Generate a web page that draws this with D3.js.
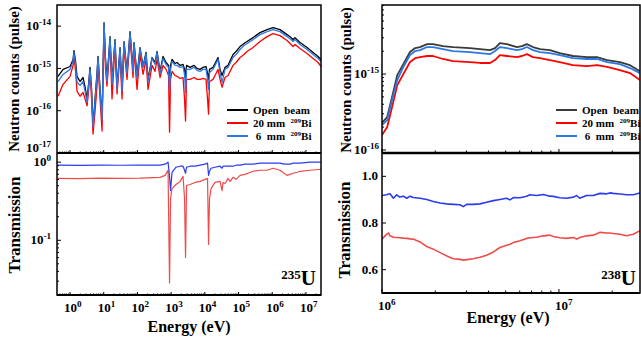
<!DOCTYPE html>
<html><head><meta charset="utf-8">
<script src="https://cdn.jsdelivr.net/npm/d3@7"></script>
<style>
body{margin:0;background:#fff}
svg{display:block}
text{font-family:"Liberation Serif","Times New Roman",serif;font-weight:bold;fill:#000}
</style>
</head><body>
<svg id="c" width="641" height="342"></svg>
<script>
// ---------------- DATA ----------------
// Left panel (235U), neutron counts per pulse
const leftEnergy = [
  0.44, 0.62, 1.0, 1.23, 1.31, 1.46, 1.61, 1.98, 2.43, 2.79,
  3.2, 3.54, 3.92, 4.35, 4.81, 5.52, 6.32, 6.77, 7.77, 8.91,
  9.53, 10.2, 11.3, 12.5, 15.4, 17.6, 21.6, 24.8, 30.5, 34.9,
  40.0, 49.1, 60.3, 74.0, 79.3, 97.3, 119, 147, 180, 206,
  271, 333, 382, 469, 575, 706, 837, 897, 960, 1064,
  1306, 1497, 1837, 2255, 2500, 2675, 2865, 3637, 4786, 5871,
  7208, 8846, 10860, 12030, 12880, 13780, 17500, 21480, 24640, 28250,
  32380, 39720, 48760, 68700, 84300, 110900, 145600, 178600, 269400, 434300,
  701000, 1.056e6, 1.70e6, 2.75e6, 3.61e6, 4.14e6, 4.75e6, 6.68e6, 1.08e7, 1.63e7,
  2.29e7, 2.81e7];
const leftOpenBeam = [
  0.65e-15, 0.95e-15, 1.11e-15, 1.63e-15, 2.65e-15, 1.46e-15, 0.65e-15, 0.49e-15, 0.61e-15, 0.36e-15,
  0.19e-15, 0.42e-15, 1.06e-15, 0.32e-15, 0.043e-15, 0.19e-15, 0.80e-15, 1.92e-15, 0.32e-15, 0.063e-15,
  0.95e-15, 12.1e-15, 1.63e-15, 0.55e-15, 5.66e-15, 0.47e-15, 4.81e-15, 0.36e-15, 3.12e-15, 0.32e-15,
  4.32e-15, 0.80e-15, 7.42e-15, 0.95e-15, 4.09e-15, 0.65e-15, 3.12e-15, 1.11e-15, 2.38e-15, 0.55e-15,
  1.81e-15, 1.38e-15, 2.51e-15, 0.85e-15, 1.92e-15, 1.38e-15, 1.18e-15, 0.38e-15, 1.18e-15, 1.63e-15,
  1.31e-15, 1.38e-15, 1.18e-15, 1.24e-15, 0.95e-15, 0.61e-15, 1.18e-15, 1.06e-15, 1.18e-15, 1.00e-15,
  0.95e-15, 1.06e-15, 1.11e-15, 0.76e-15, 0.55e-15, 0.95e-15, 1.06e-15, 1.46e-15, 1.81e-15, 0.95e-15,
  0.68e-15, 1.06e-15, 1.18e-15, 2.13e-15, 2.51e-15, 3.29e-15, 3.87e-15, 4.32e-15, 5.36e-15, 7.03e-15,
  8.27e-15, 9.22e-15, 8.27e-15, 6.31e-15, 5.36e-15, 4.81e-15, 5.36e-15, 4.09e-15, 3.12e-15, 2.38e-15,
  1.92e-15, 1.63e-15];
const leftBi6 = [
  0.49e-15, 0.72e-15, 0.95e-15, 1.46e-15, 2.38e-15, 1.18e-15, 0.47e-15, 0.40e-15, 0.49e-15, 0.29e-15,
  0.16e-15, 0.38e-15, 0.95e-15, 0.29e-15, 0.041e-15, 0.17e-15, 0.72e-15, 1.81e-15, 0.29e-15, 0.060e-15,
  0.85e-15, 11.4e-15, 1.46e-15, 0.49e-15, 5.36e-15, 0.42e-15, 4.56e-15, 0.32e-15, 2.96e-15, 0.29e-15,
  4.09e-15, 0.76e-15, 7.03e-15, 0.85e-15, 3.87e-15, 0.58e-15, 2.96e-15, 1.06e-15, 2.25e-15, 0.49e-15,
  1.72e-15, 1.24e-15, 2.38e-15, 0.76e-15, 1.72e-15, 1.24e-15, 1.06e-15, 0.29e-15, 0.95e-15, 1.46e-15,
  1.18e-15, 1.18e-15, 1.06e-15, 1.11e-15, 0.72e-15, 0.27e-15, 0.95e-15, 0.95e-15, 1.06e-15, 0.90e-15,
  0.85e-15, 0.95e-15, 0.95e-15, 0.55e-15, 0.32e-15, 0.80e-15, 0.95e-15, 1.31e-15, 1.63e-15, 0.80e-15,
  0.47e-15, 0.95e-15, 1.06e-15, 1.81e-15, 2.13e-15, 2.80e-15, 3.48e-15, 3.87e-15, 4.81e-15, 6.31e-15,
  7.42e-15, 8.27e-15, 7.42e-15, 5.66e-15, 4.81e-15, 4.32e-15, 4.81e-15, 3.67e-15, 2.80e-15, 2.13e-15,
  1.72e-15, 1.46e-15];
const leftBi20 = [
  0.22e-15, 0.42e-15, 0.65e-15, 1.18e-15, 1.92e-15, 0.85e-15, 0.29e-15, 0.22e-15, 0.27e-15, 0.19e-15,
  0.13e-15, 0.29e-15, 0.80e-15, 0.19e-15, 0.028e-15, 0.097e-15, 0.38e-15, 1.24e-15, 0.19e-15, 0.033e-15,
  0.55e-15, 9.2e-15, 0.95e-15, 0.38e-15, 4.09e-15, 0.19e-15, 3.48e-15, 0.25e-15, 2.25e-15, 0.19e-15,
  3.12e-15, 0.55e-15, 5.36e-15, 0.61e-15, 2.80e-15, 0.32e-15, 2.13e-15, 0.72e-15, 1.63e-15, 0.32e-15,
  1.18e-15, 0.85e-15, 1.63e-15, 0.61e-15, 1.18e-15, 0.95e-15, 0.68e-15, 0.031e-15, 0.55e-15, 0.85e-15,
  0.68e-15, 0.65e-15, 0.58e-15, 0.61e-15, 0.19e-15, 0.057e-15, 0.55e-15, 0.55e-15, 0.61e-15, 0.55e-15,
  0.55e-15, 0.58e-15, 0.55e-15, 0.19e-15, 0.083e-15, 0.49e-15, 0.55e-15, 0.76e-15, 0.95e-15, 0.55e-15,
  0.36e-15, 0.61e-15, 0.68e-15, 1.18e-15, 1.38e-15, 1.81e-15, 2.13e-15, 2.51e-15, 3.12e-15, 4.32e-15,
  5.66e-15, 6.66e-15, 5.97e-15, 4.56e-15, 3.67e-15, 3.29e-15, 3.67e-15, 2.96e-15, 2.25e-15, 1.72e-15,
  1.38e-15, 1.11e-15];

// Left panel transmission
const leftTransEnergy = [
  0.44, 1.98, 7.77, 30.5, 119, 469, 659, 809, 897, 960,
  1064, 1397, 1837, 2255, 2500, 2675, 2865, 3637, 5117, 7208,
  10140, 12030, 12880, 13780, 15280, 20080, 28250, 32380, 34680, 39720,
  48760, 55970, 68700, 84300, 110900, 156000, 269400, 434300, 701000, 1.056e6,
  1.70e6, 2.24e6, 2.75e6, 3.37e6, 4.14e6, 5.45e6, 6.68e6, 1.32e7, 2.81e7];
const leftTrans6 = [
  0.914, 0.91, 0.918, 0.912, 0.915, 0.914, 0.942, 1.0, 0.658, 0.433,
  0.742, 0.861, 0.887, 0.887, 0.787, 0.720, 0.861, 0.887, 0.887, 0.914,
  0.942, 0.970, 0.678, 0.764, 0.836, 0.861, 0.887, 0.836, 0.887, 0.887,
  0.887, 0.887, 0.887, 0.914, 0.914, 0.942, 0.942, 0.970, 0.970, 0.970,
  0.970, 0.942, 0.942, 0.942, 0.970, 0.970, 0.970, 1.0, 1.0];
const leftTrans20 = [
  0.620, 0.615, 0.625, 0.620, 0.625, 0.639, 0.678, 0.787, 0.0285, 0.341,
  0.459, 0.518, 0.567, 0.658, 0.341, 0.0602, 0.503, 0.518, 0.550, 0.567,
  0.602, 0.620, 0.0887, 0.341, 0.459, 0.550, 0.567, 0.433, 0.550, 0.534,
  0.620, 0.567, 0.639, 0.602, 0.678, 0.698, 0.764, 0.787, 0.787, 0.836,
  0.787, 0.720, 0.678, 0.698, 0.720, 0.742, 0.764, 0.787, 0.811];

// Right panel (238U), neutron counts per pulse
const rightEnergy = [
  1.00e6, 1.07e6, 1.14e6, 1.22e6, 1.31e6, 1.44e6, 1.54e6, 1.64e6, 1.80e6, 1.94e6,
  2.21e6, 2.52e6, 3.14e6, 3.58e6, 4.08e6, 4.35e6, 4.64e6, 5.08e6, 5.79e6, 6.18e6,
  6.59e6, 7.13e6, 7.81e6, 8.89e6, 1.01e7, 1.20e7, 1.44e7, 1.64e7, 1.87e7, 2.21e7,
  2.52e7, 2.87e7];
const rightOpenBeam = [
  0.227e-15, 0.272e-15, 0.498e-15, 0.970e-15, 1.31e-15, 1.95e-15, 2.20e-15, 2.27e-15, 2.48e-15, 2.48e-15,
  2.34e-15, 2.27e-15, 2.20e-15, 2.13e-15, 2.07e-15, 2.20e-15, 2.56e-15, 2.48e-15, 2.27e-15, 2.34e-15,
  2.48e-15, 2.27e-15, 2.13e-15, 2.07e-15, 1.89e-15, 1.73e-15, 1.67e-15, 1.67e-15, 1.53e-15, 1.44e-15,
  1.31e-15, 1.09e-15];
const rightBi6 = [
  0.213e-15, 0.248e-15, 0.455e-15, 0.834e-15, 1.20e-15, 1.78e-15, 2.01e-15, 2.07e-15, 2.27e-15, 2.27e-15,
  2.13e-15, 2.01e-15, 1.95e-15, 1.89e-15, 1.83e-15, 2.01e-15, 2.27e-15, 2.20e-15, 2.07e-15, 2.13e-15,
  2.27e-15, 2.07e-15, 1.95e-15, 1.89e-15, 1.78e-15, 1.62e-15, 1.58e-15, 1.58e-15, 1.44e-15, 1.35e-15,
  1.20e-15, 1.03e-15];
const rightBi20 = [
  0.157e-15, 0.201e-15, 0.368e-15, 0.716e-15, 0.970e-15, 1.44e-15, 1.62e-15, 1.67e-15, 1.73e-15, 1.73e-15,
  1.58e-15, 1.48e-15, 1.44e-15, 1.40e-15, 1.40e-15, 1.53e-15, 1.78e-15, 1.73e-15, 1.67e-15, 1.73e-15,
  1.83e-15, 1.67e-15, 1.62e-15, 1.53e-15, 1.44e-15, 1.31e-15, 1.27e-15, 1.31e-15, 1.24e-15, 1.13e-15,
  1.03e-15, 0.834e-15];

// Right panel transmission
const rightTransEnergy = [
  1.00e6, 1.04e6, 1.06e6, 1.09e6, 1.11e6, 1.16e6, 1.21e6, 1.26e6, 1.32e6, 1.38e6,
  1.44e6, 1.50e6, 1.64e6, 1.79e6, 1.95e6, 2.13e6, 2.32e6, 2.53e6, 2.76e6, 2.88e6,
  3.01e6, 3.28e6, 3.58e6, 3.90e6, 4.26e6, 4.64e6, 5.06e6, 5.29e6, 5.52e6, 6.02e6,
  6.56e6, 6.86e6, 7.48e6, 8.15e6, 8.89e6, 9.29e6, 1.01e7, 1.10e7, 1.21e7, 1.26e7,
  1.31e7, 1.43e7, 1.56e7, 1.71e7, 1.86e7, 1.94e7, 2.03e7, 2.21e7, 2.41e7, 2.63e7,
  2.87e7];
const rightTrans6 = [
  0.918, 0.920, 0.921, 0.924, 0.925, 0.906, 0.921, 0.911, 0.915, 0.906,
  0.915, 0.909, 0.906, 0.901, 0.892, 0.886, 0.882, 0.880, 0.878, 0.870,
  0.880, 0.880, 0.882, 0.889, 0.896, 0.901, 0.906, 0.899, 0.909, 0.908,
  0.915, 0.921, 0.918, 0.922, 0.915, 0.914, 0.908, 0.906, 0.911, 0.918,
  0.906, 0.918, 0.918, 0.927, 0.925, 0.929, 0.927, 0.924, 0.921, 0.921,
  0.929];
const rightTrans20 = [
  0.731, 0.745, 0.751, 0.757, 0.745, 0.739, 0.738, 0.737, 0.735, 0.734,
  0.732, 0.731, 0.719, 0.699, 0.688, 0.673, 0.659, 0.647, 0.644, 0.641,
  0.643, 0.647, 0.653, 0.662, 0.676, 0.695, 0.705, 0.709, 0.716, 0.724,
  0.734, 0.737, 0.739, 0.745, 0.748, 0.742, 0.737, 0.734, 0.738, 0.731,
  0.738, 0.745, 0.748, 0.760, 0.757, 0.757, 0.755, 0.752, 0.745, 0.752,
  0.767];

// Tick labels / text
const leftXTickExp = [0, 1, 2, 3, 4, 5, 6, 7];
const leftTopYTickExp = [-17, -16, -15, -14];
const leftBotYTickExp = [-1, 0];
const rightXTickExp = [6, 7];
const rightTopYTickExp = [-16, -15];
const rightBotYTicks = [0.6, 0.8, 1.0];
const legendLabels = [
  {pre: "Open  beam", sup: "", post: ""},
  {pre: "20 mm  ", sup: "209", post: "Bi"},
  {pre: " 6  mm  ", sup: "209", post: "Bi"}
];
const countsTitle = "Neutron counts (pulse)";
const transTitle = "Transmission";
const energyTitle = "Energy (eV)";

// ---------------- DRAWING ----------------
const svg = d3.select("#c");
const C = {black: "#000000", red: "#ff0000", blue: "#2b78e4",
           rBlack: "#3a3a3a", tRed: "#f04a4a", tBlue: "#2a3cf0"};

function logTicks(dom) {
  const out = [];
  const lo = Math.floor(Math.log10(dom[0])), hi = Math.ceil(Math.log10(dom[1]));
  for (let n = lo; n <= hi; n++) for (let k = 1; k < 10; k++) {
    const v = k * Math.pow(10, n);
    if (v >= dom[0] * 0.9999 && v <= dom[1] * 1.0001) out.push({v, major: k === 1});
  }
  return out;
}

let clipN = 0;
function clip(x0, y0, x1, y1) {
  const id = "clip" + (clipN++);
  svg.append("clipPath").attr("id", id).append("rect")
    .attr("x", x0).attr("y", y0).attr("width", x1 - x0).attr("height", y1 - y0);
  return "url(#" + id + ")";
}

function series(cp, x, y, xs, ys, color, w) {
  const line = d3.line().x((d, i) => x(xs[i])).y(d => y(d));
  svg.append("path").attr("clip-path", cp).attr("d", line(ys))
    .attr("fill", "none").attr("stroke", color).attr("stroke-width", w)
    .attr("stroke-linejoin", "round");
}

function xTicksUp(x, yPos, ticks, majLen, minLen) {
  ticks.forEach(t => {
    svg.append("line").attr("x1", x(t.v)).attr("x2", x(t.v))
      .attr("y1", yPos).attr("y2", yPos - (t.major ? majLen : minLen))
      .attr("stroke", "#000").attr("stroke-width", 1);
  });
}
function yTicksRight(y, xPos, ticks, majLen, minLen) {
  ticks.forEach(t => {
    svg.append("line").attr("y1", y(t.v)).attr("y2", y(t.v))
      .attr("x1", xPos).attr("x2", xPos + (t.major ? majLen : minLen))
      .attr("stroke", "#000").attr("stroke-width", 1);
  });
}

function powLabel(xp, yp, exp, anchor, size) {
  const t = svg.append("text").attr("x", xp).attr("y", yp)
    .attr("text-anchor", anchor).style("font-size", size + "px");
  t.append("tspan").text("10");
  t.append("tspan").attr("dy", -size * 0.42).style("font-size", (size * 0.7) + "px").text(String(exp));
  return t;
}

function frame(x0, y0, x1, y1, w) {
  svg.append("rect").attr("x", x0).attr("y", y0).attr("width", x1 - x0).attr("height", y1 - y0)
    .attr("fill", "none").attr("stroke", "#000").attr("stroke-width", w);
}
function hline(x0, x1, yv, w) {
  svg.append("line").attr("x1", x0).attr("x2", x1).attr("y1", yv).attr("y2", yv)
    .attr("stroke", "#000").attr("stroke-width", w);
}

function yTitle(txt, xb, yc, size) {
  svg.append("text").attr("transform", `translate(${xb},${yc}) rotate(-90)`)
    .attr("text-anchor", "middle").style("font-size", size + "px").text(txt);
}

function legend(lx, ly, colors) {
  legendLabels.forEach((L, i) => {
    const yy = ly + i * 13;
    svg.append("line").attr("x1", lx).attr("x2", lx + 21).attr("y1", yy).attr("y2", yy)
      .attr("stroke", colors[i]).attr("stroke-width", 2);
    const t = svg.append("text").attr("x", lx + 26).attr("y", yy + 4)
      .style("font-size", "11px").style("white-space", "pre");
    t.append("tspan").text(L.pre);
    if (L.sup) {
      t.append("tspan").attr("dy", -4).style("font-size", "7px").text(L.sup);
      t.append("tspan").attr("dy", 4).text(L.post);
    }
  });
}

function isoLabel(xr, yb, mass) {
  const t = svg.append("text").attr("x", xr).attr("y", yb).attr("text-anchor", "end");
  t.append("tspan").attr("dy", -6).style("font-size", "13px").text(mass);
  t.append("tspan").attr("dy", 6).style("font-size", "21px").text("U");
}

// ===== LEFT PANEL =====
const LX0 = 57, LX1 = 321, LT0 = 5, LMID = 153, LB1 = 295;
const lx = d3.scaleLog().domain([0.41, 2.8e7]).range([LX0, LX1]);
const lyTop = d3.scaleLog().domain([1e-17, Math.pow(10, -13.5)]).range([LMID, LT0]);
const lyBot = d3.scaleLog().domain([Math.pow(10, -1.70), Math.pow(10, 0.117)]).range([LB1, LMID]);

const cpLT = clip(LX0, LT0, LX1, LMID);
series(cpLT, lx, lyTop, leftEnergy, leftOpenBeam, C.black, 1.3);
series(cpLT, lx, lyTop, leftEnergy, leftBi20, C.red, 1.3);
series(cpLT, lx, lyTop, leftEnergy, leftBi6, C.blue, 1.3);

const cpLB = clip(LX0, LMID, LX1, LB1);
series(cpLB, lx, lyBot, leftTransEnergy, leftTrans20, C.tRed, 1.2);
series(cpLB, lx, lyBot, leftTransEnergy, leftTrans6, C.tBlue, 1.2);

const lxt = logTicks(lx.domain());
xTicksUp(lx, LMID, lxt, 3, 1.5);
xTicksUp(lx, LB1, lxt, 3, 1.5);
yTicksRight(lyTop, LX0, logTicks(lyTop.domain()).filter(t => t.major), 4, 2);
yTicksRight(lyBot, LX0, logTicks(lyBot.domain()), 4, 2);

frame(LX0, LT0, LX1, LB1, 1.5);
hline(LX0, LX1, LMID, 2);
hline(LX0, LX1, LB1, 2);

leftTopYTickExp.forEach(e => powLabel(51, Math.min(lyTop(Math.pow(10, e)) + 4, LMID - 1), e, "end", 13));
leftBotYTickExp.forEach(e => powLabel(51, lyBot(Math.pow(10, e)) + 4, e, "end", 13));
leftXTickExp.forEach(e => powLabel(lx(Math.pow(10, e)) - 6, 312, e, "start", 13));

yTitle(countsTitle, 19, 79, 15);
yTitle(transTitle, 20, 225, 17);
svg.append("text").attr("x", 189).attr("y", 332).attr("text-anchor", "middle")
  .style("font-size", "16px").text(energyTitle);
legend(227, 110, [C.black, C.red, C.blue]);
isoLabel(316, 285, "235");

// ===== RIGHT PANEL =====
const RX0 = 382, RX1 = 640, RT0 = 5, RMID = 153, RB1 = 293;
const rx = d3.scaleLog().domain([1e6, Math.pow(10, 7.458)]).range([RX0, RX1]);
const ryTop = d3.scaleLog().domain([Math.pow(10, -16.04), Math.pow(10, -14.09)]).range([RMID, RT0]);
const ryBot = d3.scaleLinear().domain([0.5, 1.1]).range([RB1, RMID]);

const cpRT = clip(RX0, RT0, RX1, RMID);
series(cpRT, rx, ryTop, rightEnergy, rightOpenBeam, C.rBlack, 1.8);
series(cpRT, rx, ryTop, rightEnergy, rightBi20, C.red, 1.8);
series(cpRT, rx, ryTop, rightEnergy, rightBi6, C.blue, 1.8);

const cpRB = clip(RX0, RMID, RX1, RB1);
series(cpRB, rx, ryBot, rightTransEnergy, rightTrans20, C.tRed, 1.6);
series(cpRB, rx, ryBot, rightTransEnergy, rightTrans6, C.tBlue, 1.6);

const rxt = logTicks(rx.domain());
xTicksUp(rx, RMID, rxt, 4, 2.5);
xTicksUp(rx, RB1, rxt, 4, 2.5);
yTicksRight(ryTop, RX0, logTicks(ryTop.domain()), 4, 2);
rightBotYTicks.forEach(v => yTicksRight(ryBot, RX0, [{v, major: true}], 4, 2));

frame(RX0, RT0, RX1, RB1, 1.5);
hline(RX0, RX1, RMID, 2.5);
hline(RX0, RX1, RB1, 2);

rightTopYTickExp.forEach(e => powLabel(379, ryTop(Math.pow(10, e)) + 4, e, "end", 13));
rightBotYTicks.forEach(v => svg.append("text").attr("x", 378).attr("y", ryBot(v) + 4)
  .attr("text-anchor", "end").style("font-size", "13px").text(d3.format(".1f")(v)));
rightXTickExp.forEach(e => powLabel(rx(Math.pow(10, e)) - 4, 310, e, "start", 13));

yTitle(countsTitle, 351, 80, 15);
yTitle(transTitle, 350, 230, 17);
svg.append("text").attr("x", 508).attr("y", 323).attr("text-anchor", "middle")
  .style("font-size", "16px").text(energyTitle);
legend(556, 110, [C.rBlack, C.red, C.blue]);
isoLabel(636, 285, "238");
</script>
</body></html>
